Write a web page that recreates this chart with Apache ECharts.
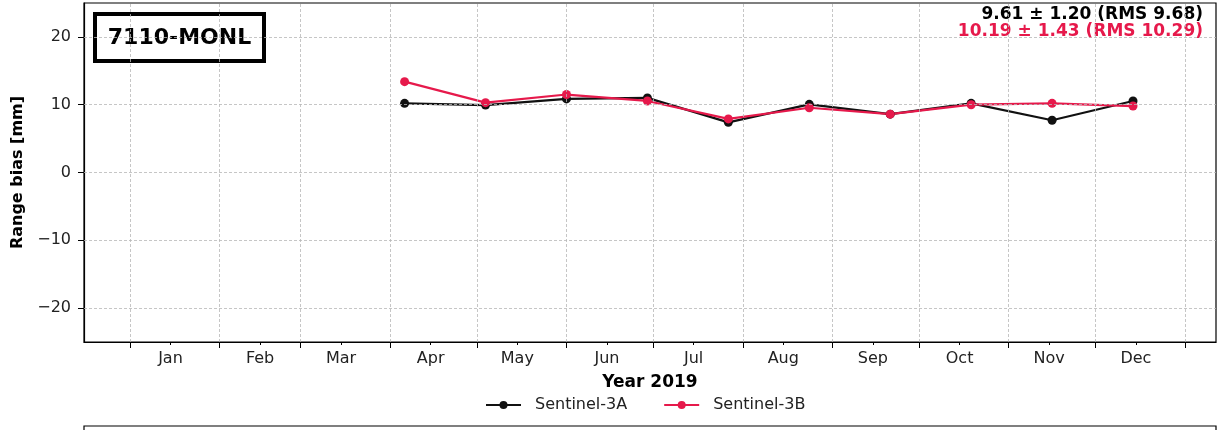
<!DOCTYPE html>
<html>
<head>
<meta charset="utf-8">
<script src="https://cdn.jsdelivr.net/npm/echarts@6/dist/echarts.min.js"></script>
<style>
  html, body { margin: 0; padding: 0; background: #fff; }
  #chart { width: 1218px; height: 430px; }
</style>
</head>
<body>
<div id="chart"></div>
<script>
  // pass dates (Sentinel-3 cycles over station 7110-MONL)
  const dates = ['2019-04-06', '2019-05-04', '2019-06-01', '2019-06-29', '2019-07-27',
                 '2019-08-24', '2019-09-21', '2019-10-19', '2019-11-16', '2019-12-14'];
  const s3a = [10.2, 9.95, 10.85, 11.0, 7.4, 10.05, 8.6, 10.2, 7.7, 10.55];
  const s3b = [13.4, 10.3, 11.5, 10.55, 7.9, 9.55, 8.6, 10.0, 10.2, 9.8];
  const monthNames = ['Jan', 'Feb', 'Mar', 'Apr', 'May', 'Jun', 'Jul', 'Aug', 'Sep', 'Oct', 'Nov', 'Dec'];
  const yTicks = [-20, -10, 0, 10, 20];
  const statsA = '9.61 \u00b1 1.20 (RMS 9.68)';
  const statsB = '10.19 \u00b1 1.43 (RMS 10.29)';
  const station = '7110-MONL';

  const RED = '#e6194b';
  const FONT = 'DejaVu Sans';

  function ts(s) {
    const p = s.split('-').map(Number);
    return new Date(p[0], p[1] - 1, p[2]).getTime();
  }
  const monthStarts = [];
  for (let m = 0; m <= 12; m++) monthStarts.push(new Date(2019, m, 1).getTime());
  const midMonths = [];
  for (let m = 0; m < 12; m++) midMonths.push(new Date(2019, m, 15).getTime());
  const xMin = new Date(2018, 11, 16, 2).getTime();
  const xMax = new Date(2020, 0, 11, 17).getTime();

  const gridLine = { color: '#b8b8b8', width: 0.8, type: [3, 2] };

  const chart = echarts.init(document.getElementById('chart'));
  const option = {
    animation: false,
    textStyle: { fontFamily: FONT },
    grid: { left: 84, right: 2, top: 3, bottom: 88, show: true, borderColor: '#000', borderWidth: 1.2, backgroundColor: 'transparent' },
    xAxis: [
      {
        type: 'value', min: xMin, max: xMax, position: 'bottom',
        name: 'Year 2019', nameLocation: 'middle', nameGap: 32,
        nameTextStyle: { fontFamily: FONT, fontWeight: 'bold', fontSize: 17, color: '#000' },
        axisLine: { onZero: false, lineStyle: { color: '#000', width: 1.2 } },
        axisTick: { show: true, length: 6, customValues: monthStarts, lineStyle: { color: '#000' } },
        axisLabel: {
          customValues: midMonths, margin: 9, fontSize: 16, color: '#222', fontFamily: FONT,
          formatter: (v) => monthNames[new Date(v).getMonth()]
        },
        splitLine: { show: false }
      },
      {
        type: 'value', min: xMin, max: xMax, position: 'bottom',
        axisLine: { show: false, onZero: false },
        axisTick: { show: true, length: 3, customValues: midMonths, lineStyle: { color: '#000' } },
        axisLabel: { show: false },
        splitLine: { show: false }
      }
    ],
    yAxis: {
      type: 'value', min: -25, max: 25,
      name: 'Range bias [mm]', nameLocation: 'middle', nameGap: 58, nameRotate: 90,
      nameTextStyle: { fontFamily: FONT, fontWeight: 'bold', fontSize: 16, color: '#000' },
      axisLine: { show: true, onZero: false, lineStyle: { color: '#000', width: 1.2 } },
      axisTick: { show: true, length: 6, customValues: yTicks, lineStyle: { color: '#000' } },
      axisLabel: {
        customValues: yTicks, margin: 13, fontSize: 16, color: '#222', fontFamily: FONT,
        formatter: (v) => String(v).replace('-', '\u2212')
      },
      splitLine: { show: false }
    },
    legend: {
      bottom: 12, left: 480, itemWidth: 35, itemHeight: 10, itemGap: 36,
      textStyle: { fontFamily: FONT, fontSize: 16, color: '#222', padding: [0, 0, 0, 9] },
      data: ['Sentinel-3A', 'Sentinel-3B']
    },
    series: [
      {
        name: 'grid', type: 'line', data: [], silent: true,
        markLine: {
          silent: true, symbol: 'none', label: { show: false }, lineStyle: gridLine,
          data: monthStarts.map(v => ({ xAxis: v })).concat(yTicks.map(v => ({ yAxis: v })))
        }
      },
      {
        name: 'Sentinel-3A', type: 'line', symbol: 'circle', symbolSize: 9,
        itemStyle: { color: '#111' }, lineStyle: { color: '#111', width: 2.2 },
        data: dates.map((d, i) => [ts(d), s3a[i]])
      },
      {
        name: 'Sentinel-3B', type: 'line', symbol: 'circle', symbolSize: 9,
        itemStyle: { color: RED }, lineStyle: { color: RED, width: 2.2 },
        data: dates.map((d, i) => [ts(d), s3b[i]])
      }
    ],
    graphic: [
      {
        type: 'group', left: 93, top: 12,
        children: [
          { type: 'rect', shape: { x: 0, y: 0, width: 169, height: 47 }, style: { fill: '#fff', stroke: '#000', lineWidth: 4 } },
          { type: 'text', x: 84.5, y: 24, style: { text: station, font: 'bold 22px "DejaVu Sans"', fill: '#000', textAlign: 'center', textVerticalAlign: 'middle' } }
        ]
      },
      { type: 'text', x: 1203, y: 15, style: { text: statsA, font: 'bold 17px "DejaVu Sans"', fill: '#000', textAlign: 'right', textVerticalAlign: 'middle' } },
      { type: 'text', x: 1203, y: 32, style: { text: statsB, font: 'bold 17px "DejaVu Sans"', fill: RED, textAlign: 'right', textVerticalAlign: 'middle' } },
      { type: 'rect', shape: { x: 84, y: 426, width: 1132, height: 30 }, style: { fill: 'none', stroke: '#000', lineWidth: 1.2 } }
    ]
  };
  chart.setOption(option);
</script>
</body>
</html>
